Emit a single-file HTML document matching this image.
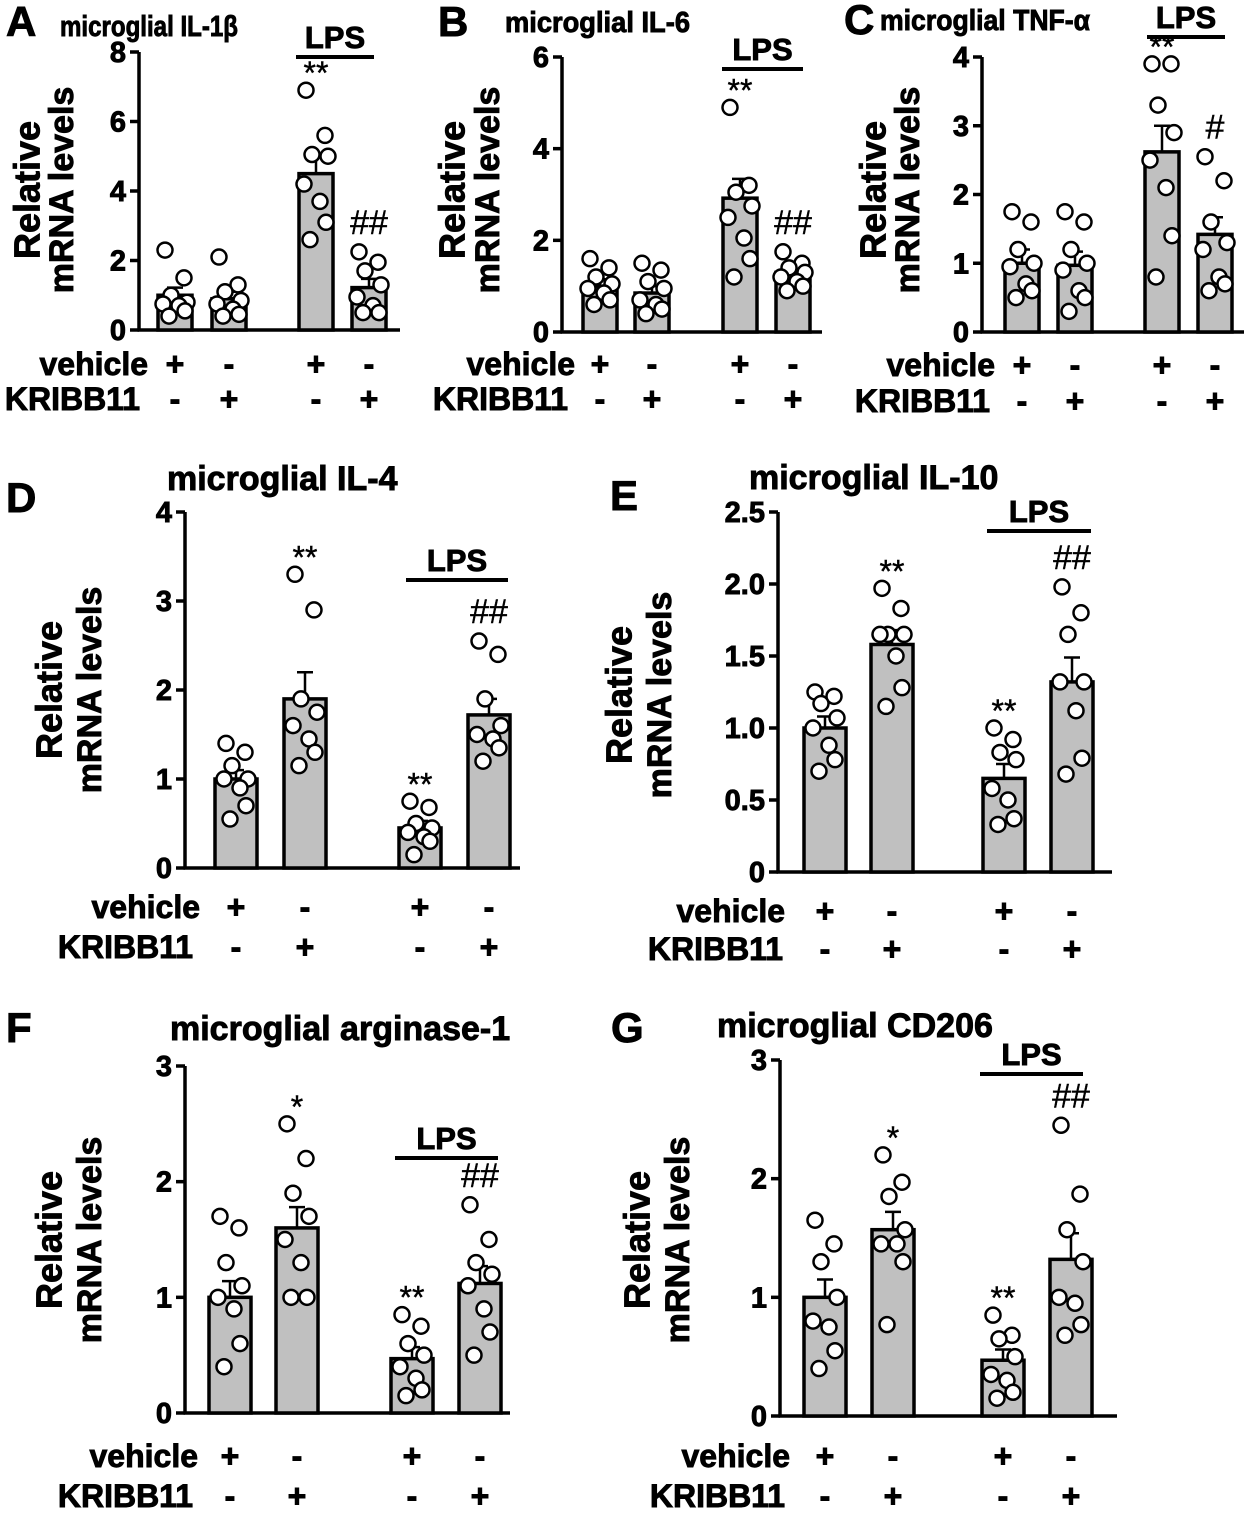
<!DOCTYPE html>
<html><head><meta charset="utf-8">
<style>
html,body{margin:0;padding:0;background:#fff;}
svg{display:block;font-family:"Liberation Sans",Arial,sans-serif;}
</style></head>
<body>
<svg id="fig" width="1250" height="1514" viewBox="0 0 1250 1514" xmlns="http://www.w3.org/2000/svg"></svg>
<script>
// ---- data ----
const groups = ["veh","kri","lps-veh","lps-kri"];
const vehicleSigns = ["+","-","+","-"];
const kribbSigns = ["-","+","-","+"];

const aTicks = [0,2,4,6,8];
const aTickLabels = ["0","2","4","6","8"];
const aMeans = [1.0,0.9,4.5,1.22];
const aErr = [0.22,0.2,0.48,0.25];
const aDots = [[2.3,1.5,1.0,0.8,0.75,0.7,0.55,0.4],[2.1,1.3,1.1,0.85,0.75,0.6,0.45,0.4],[6.9,5.6,5.05,5.0,4.2,3.7,3.1,2.6],[2.25,1.95,1.7,1.3,0.95,0.7,0.5,0.5]];
const aSig = ["","","**","##"];

const bTicks = [0,2,4,6];
const bTickLabels = ["0","2","4","6"];
const bMeans = [1.0,0.85,2.92,1.3];
const bErr = [0.15,0.15,0.42,0.12];
const bDots = [[1.6,1.4,1.2,1.05,0.95,0.85,0.7,0.6],[1.5,1.35,1.1,0.95,0.7,0.6,0.5,0.4],[4.9,3.2,3.05,2.75,2.5,2.05,1.6,1.2],[1.75,1.5,1.4,1.3,1.2,1.1,1.0,0.9]];
const bSig = ["","","**","##"];

const cTicks = [0,1,2,3,4];
const cTickLabels = ["0","1","2","3","4"];
const cMeans = [1.0,0.97,2.62,1.42];
const cErr = [0.2,0.2,0.38,0.25];
const cDots = [[1.75,1.6,1.2,1.0,0.95,0.7,0.6,0.5],[1.75,1.6,1.2,1.0,0.9,0.6,0.5,0.3],[3.9,3.9,3.3,2.9,2.5,2.1,1.4,0.8],[2.55,2.2,1.6,1.3,1.2,0.8,0.7,0.6]];
const cSig = ["","","**","#"];

const dTicks = [0,1,2,3,4];
const dTickLabels = ["0","1","2","3","4"];
const dMeans = [1.0,1.9,0.45,1.72];
const dErr = [0.1,0.3,0.08,0.18];
const dDots = [[1.4,1.3,1.15,1.0,1.0,0.9,0.7,0.55],[3.3,2.9,1.9,1.75,1.6,1.45,1.3,1.15],[0.75,0.68,0.5,0.45,0.4,0.35,0.3,0.15],[2.55,2.4,1.9,1.6,1.5,1.45,1.35,1.2]];
const dSig = ["","**","**","##"];

const eTicks = [0,0.5,1.0,1.5,2.0,2.5];
const eTickLabels = ["0","0.5","1.0","1.5","2.0","2.5"];
const eMeans = [1.0,1.58,0.65,1.32];
const eErr = [0.08,0.1,0.1,0.17];
const eDots = [[1.25,1.22,1.17,1.07,1.0,0.88,0.78,0.7],[1.97,1.83,1.65,1.65,1.65,1.5,1.28,1.15],[1.0,0.92,0.83,0.78,0.58,0.5,0.37,0.33],[1.98,1.8,1.65,1.32,1.32,1.12,0.79,0.68]];
const eSig = ["","**","**","##"];

const fTicks = [0,1,2,3];
const fTickLabels = ["0","1","2","3"];
const fMeans = [1.0,1.6,0.47,1.12];
const fErr = [0.14,0.18,0.1,0.15];
const fDots = [[1.7,1.6,1.3,1.1,1.0,0.9,0.6,0.4],[2.5,2.2,1.9,1.7,1.5,1.3,1.0,1.0],[0.85,0.75,0.6,0.5,0.4,0.3,0.2,0.15],[1.8,1.5,1.3,1.2,1.1,0.9,0.7,0.5]];
const fSig = ["","*","**","##"];

const gTicks = [0,1,2,3];
const gTickLabels = ["0","1","2","3"];
const gMeans = [1.0,1.57,0.47,1.32];
const gErr = [0.15,0.15,0.09,0.22];
const gDots = [[1.65,1.45,1.3,1.0,0.8,0.75,0.55,0.4],[2.2,1.97,1.85,1.57,1.45,1.45,1.3,0.77],[0.85,0.68,0.65,0.5,0.35,0.3,0.2,0.15],[2.45,1.87,1.57,1.3,1.0,0.95,0.77,0.68]];
const gSig = ["","*","**","##"];

// ---- layout (style only) ----
const panels = [
 {id:"a",letter:"A",lx:6,ly:36,title:"microglial IL-1β",tfs:29,tlen:178,tx:60,ty:36,ax:139,y0:330,ytop:52,ymax:8,xs:[175,229,316,369],bw:34,axEnd:400,
  yl1:30,yl2:64,ylc:190,vehY:375,kriY:410,labR:148,kriR:140,lps:[296,374,57],ticks:aTicks,tl:aTickLabels,means:aMeans,err:aErr,dots:aDots,sig:aSig},
 {id:"b",letter:"B",lx:438,ly:36,title:"microglial IL-6",tfs:29,tlen:185,tx:505,ty:32,ax:562,y0:332,ytop:57,ymax:6,xs:[600,652,740,793],bw:34,axEnd:822,
  yl1:455,yl2:490,ylc:190,vehY:375,kriY:410,labR:575,kriR:568,lps:[722,803,69],ticks:bTicks,tl:bTickLabels,means:bMeans,err:bErr,dots:bDots,sig:bSig},
 {id:"c",letter:"C",lx:844,ly:34,title:"microglial TNF-α",tfs:29,tlen:210,tx:880,ty:30,ax:982,y0:332,ytop:57,ymax:4,xs:[1022,1075,1162,1215],bw:34,axEnd:1244,
  yl1:876,yl2:910,ylc:190,vehY:376,kriY:412,labR:995,kriR:990,lps:[1147,1225,37],ticks:cTicks,tl:cTickLabels,means:cMeans,err:cErr,dots:cDots,sig:cSig},
 {id:"d",letter:"D",lx:6,ly:512,title:"microglial IL-4",tfs:34,tlen:0,tx:167,ty:490,ax:185,y0:868,ytop:512,ymax:4,xs:[236,305,420,489],bw:42,axEnd:520,
  yl1:52,yl2:92,ylc:690,vehY:918,kriY:958,labR:200,kriR:193,lps:[406,508,580],ticks:dTicks,tl:dTickLabels,means:dMeans,err:dErr,dots:dDots,sig:dSig},
 {id:"e",letter:"E",lx:610,ly:510,title:"microglial IL-10",tfs:34,tlen:0,tx:749,ty:489,ax:778,y0:872,ytop:512,ymax:2.5,xs:[825,892,1004,1072],bw:42,axEnd:1112,
  yl1:622,yl2:662,ylc:695,vehY:922,kriY:960,labR:785,kriR:783,lps:[987,1091,531],ticks:eTicks,tl:eTickLabels,means:eMeans,err:eErr,dots:eDots,sig:eSig},
 {id:"f",letter:"F",lx:6,ly:1042,title:"microglial arginase-1",tfs:34,tlen:0,tx:170,ty:1040,ax:185,y0:1413,ytop:1066,ymax:3,xs:[230,297,412,480],bw:42,axEnd:510,
  yl1:52,yl2:92,ylc:1240,vehY:1467,kriY:1507,labR:198,kriR:193,lps:[395,498,1158],ticks:fTicks,tl:fTickLabels,means:fMeans,err:fErr,dots:fDots,sig:fSig},
 {id:"g",letter:"G",lx:611,ly:1042,title:"microglial CD206",tfs:34,tlen:0,tx:717,ty:1037,ax:780,y0:1416,ytop:1060,ymax:3,xs:[825,893,1003,1071],bw:42,axEnd:1117,
  yl1:640,yl2:680,ylc:1240,vehY:1467,kriY:1507,labR:790,kriR:785,lps:[980,1083,1074],ticks:gTicks,tl:gTickLabels,means:gMeans,err:gErr,dots:gDots,sig:gSig}
];
const jitter = [-10,9,-4,12,-12,4,10,-6];
const NS = "http://www.w3.org/2000/svg";
const svg = document.getElementById("fig");
const heavy = {stroke:"#000","stroke-width":0.9,"font-weight":"bold"};
function mk(tag, attrs, parent, text){
  const e = document.createElementNS(NS, tag);
  for (const k in attrs) e.setAttribute(k, attrs[k]);
  if (text !== undefined) e.textContent = text;
  (parent||svg).appendChild(e);
  return e;
}
panels.forEach(p=>{
  const g = mk("g",{});
  
  
  const y = v => p.y0 - (v/p.ymax)*(p.y0-p.ytop);
  let t;
  t = mk("text",Object.assign({x:p.lx,y:p.ly,"font-size":42},heavy),g,p.letter);
  
  
  const tAttrs = Object.assign({x:p.tx,y:p.ty,"font-size":p.tfs},heavy);
  if (p.tlen) { tAttrs.textLength = p.tlen; tAttrs.lengthAdjust = "spacingAndGlyphs"; }
  t = mk("text",tAttrs,g,p.title);
  
  
  t = mk("text",Object.assign({x:p.yl1,y:p.ylc,"font-size":36,"text-anchor":"middle",transform:`rotate(-90 ${p.yl1} ${p.ylc})`,"dominant-baseline":"middle"},heavy),g,"Relative");
  
  
  t = mk("text",Object.assign({x:p.yl2,y:p.ylc,"font-size":34,"text-anchor":"middle",transform:`rotate(-90 ${p.yl2} ${p.ylc})`,"dominant-baseline":"middle"},heavy),g,"mRNA levels");
  
  
  let l = mk("line",{x1:p.ax,y1:p.ytop,x2:p.ax,y2:p.y0+1.5,stroke:"#000","stroke-width":3.5},g);
  
  
  l = mk("line",{x1:p.ax-1.5,y1:p.y0,x2:p.axEnd,y2:p.y0,stroke:"#000","stroke-width":3.5},g);
  
  
  p.ticks.forEach((tv,k)=>{
    const ty = y(tv);
    const tk = mk("line",{x1:p.ax-9,y1:ty,x2:p.ax,y2:ty,stroke:"#000","stroke-width":3.5},g);
    
    
    const tl = mk("text",Object.assign({x:p.ax-13,y:ty+10,"font-size":29,"text-anchor":"end"},heavy),g,p.tl[k]);
    
    
  });
  p.means.forEach((m,i)=>{
    const cx = p.xs[i];
    const top = y(m);
    const eb = mk("path",{d:`M${cx} ${top} V${y(m+p.err[i])} M${cx-8} ${y(m+p.err[i])} H${cx+8}`,stroke:"#000","stroke-width":2.5,fill:"none"},g);
    
    
    const r = mk("rect",{x:cx-p.bw/2,y:top,width:p.bw,height:p.y0-top,fill:"#c0c0c0",stroke:"#000","stroke-width":3.5},g);
    
    
    p.dots[i].forEach((d,j)=>{
      const c = mk("circle",{cx:cx+jitter[j],cy:y(d),r:7.5,fill:"#fff",stroke:"#000","stroke-width":2.5},g);
      
      
    });
    if (p.sig[i]){
      const topv = Math.max(Math.max(...p.dots[i]), m+p.err[i]);
      const isHash = p.sig[i].includes("#");
      const st = mk("text",{x:cx,y:y(topv)-(isHash?18:6),"font-size":isHash?34:32,"text-anchor":"middle",stroke:"#000","stroke-width":0.4},g,p.sig[i]);
      
      
    }
    const vs = mk("text",Object.assign({x:cx,y:p.vehY,"font-size":32,"text-anchor":"middle"},heavy),g,vehicleSigns[i]);
    
    
    const ks = mk("text",Object.assign({x:cx,y:p.kriY,"font-size":32,"text-anchor":"middle"},heavy),g,kribbSigns[i]);
    
    
  });
  t = mk("text",Object.assign({x:p.labR,y:p.vehY,"font-size":32,"text-anchor":"end"},heavy),g,"vehicle");
  
  
  t = mk("text",Object.assign({x:p.kriR,y:p.kriY,"font-size":32,"text-anchor":"end"},heavy),g,"KRIBB11");
  
  
  const [x1,x2,ly] = p.lps;
  l = mk("line",{x1:x1,y1:ly,x2:x2,y2:ly,stroke:"#000","stroke-width":4},g);
  
  
  t = mk("text",Object.assign({x:(x1+x2)/2,y:ly-9,"font-size":31,"text-anchor":"middle"},heavy),g,"LPS");
  
  
});
</script>
</body></html>
